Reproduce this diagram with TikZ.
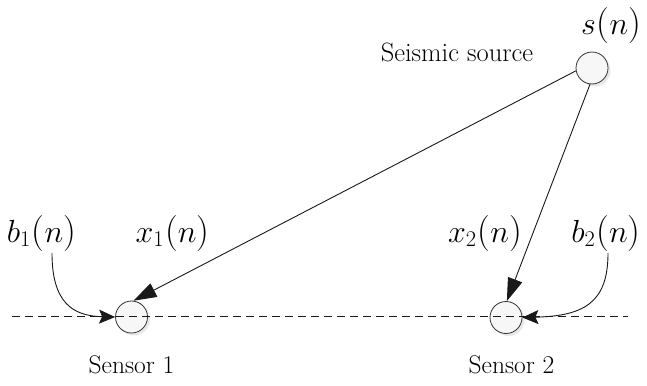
\RequirePackage{fix-cm}
\documentclass[tikz,border=0pt]{standalone}
\usetikzlibrary{arrows.meta}
\newcommand{\bigp}[1]{{\fontsize{36}{36}\selectfont #1}}
\newcommand{\pn}{\kern1pt\bigp{(}$n$\bigp{)}}
\newcommand{\mlab}[2]{{\fontsize{32}{32}\selectfont$#1_{#2}$\pn}}
\newcommand{\mlabs}[1]{{\fontsize{32}{32}\selectfont$#1$\pn}}
\begin{document}
\begin{tikzpicture}[x=1pt,y=-1pt,
  txt/.style={inner sep=0pt,anchor=base,font=\fontsize{25.5}{25.5}\selectfont},
  mth/.style={inner sep=0pt,anchor=base},
  ball/.style={circle,draw=black!80,line width=0.8pt,minimum size=32pt,inner sep=0pt,fill=gray!6},
  shad/.style={circle,fill=gray!18,minimum size=32pt,inner sep=0pt,draw=none},
  bigarr/.style={draw=black!90,line width=0.9pt,-{Triangle[length=23pt,width=15pt]}},
  smallarr/.style={draw=black!90,line width=0.9pt,-{Stealth[length=16pt,width=14pt,inset=3pt]}}]
\useasboundingbox (0,0) rectangle (647,385);
% shadows
\node[shad] at (594.5,70.5) {};
\node[shad] at (134,319.5) {};
\node[shad] at (508.5,320) {};
% circles
\node[ball] (src) at (592,68) {};
\node[ball] (s1) at (131.5,317) {};
\node[ball] (s2) at (506,317.5) {};
% dashed baseline
\coordinate (dl) at (12,316);
\coordinate (dr) at (628,316);
\draw[black!90,line width=0.9pt,dash pattern=on 8pt off 5pt] (dl) -- (dr);
% labels
\node[mth] (sn) at (611,35) {\mlabs{s}};
\node[txt,font=\fontsize{26.5}{26.5}\selectfont] (ss) at (457,62) {Seismic source};
\node[mth] (b1) at (41.5,242) {\mlab{b}{1}};
\node[mth] (x1) at (172.5,242) {\mlab{x}{1}};
\node[mth] (x2) at (485,242) {\mlab{x}{2}};
\node[mth] (b2) at (606,242) {\mlab{b}{2}};
\node[txt] (t1) at (131.5,373) {Sensor 1};
\node[txt] (t2) at (511.5,373) {Sensor 2};
% arrows
\draw[bigarr] (src.190) -- (s1.83);
\draw[bigarr] (src.263) -- (s2.87);
\coordinate (b1s) at (52,253);
\coordinate (b2s) at (608,253);
\draw[smallarr] (b1s) .. controls (52,302) and (72,316) .. (s1.west);
\draw[smallarr] (b2s) .. controls (608,302) and (585,316) .. (s2.east);
\end{tikzpicture}
\end{document}
